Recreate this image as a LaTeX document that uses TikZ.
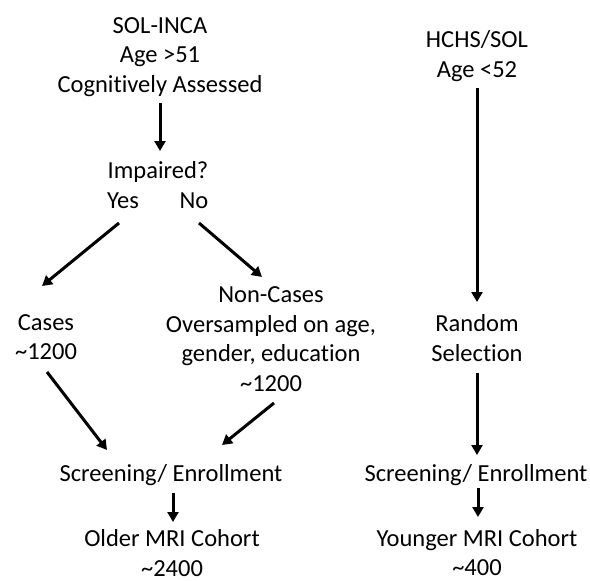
\documentclass[tikz,border=0pt]{standalone}
\usepackage{fontspec}
\setmainfont[Ligatures={NoCommon,NoRequired,NoContextual},RawFeature=-calt]{Carlito}
\usetikzlibrary{arrows.meta}
\begin{document}
\begin{tikzpicture}[x=1pt,y=-1pt,
  lbl/.style={align=center,inner sep=0pt,font=\fontsize{24.5}{29.5}\selectfont},
  arr/.style={line width=3pt,-{Triangle[length=10pt,width=11pt]}}]
\useasboundingbox (0,0) rectangle (590,581);
% left branch
\node[lbl] (solinca) at (160,57) {SOL-INCA\\Age >51\\Cognit\kern0pt ively Assessed};
\node[lbl] (impaired) at (158,172) {Impaired?};
\node[lbl] (yes) at (123,201) {Yes};
\node[lbl] (no) at (194,201) {No};
\node[lbl] (cases) at (46,337) {Cases\\\textasciitilde1200};
\node[lbl] (noncases) at (271,339) {Non-Cases\\Oversampled on age,\\gender, education\\\textasciitilde1200};
\node[lbl] (screenL) at (171,475) {Screening/ Enrollment};
\node[lbl] (older) at (172,553) {Older MRI Cohort\\\textasciitilde2400};
% right branch
\node[lbl] (hchs) at (477,56) {HCHS/SOL\\Age <52};
\node[lbl] (random) at (477,338) {Random\\Selec\kern0pt tion};
\node[lbl] (screenR) at (476,475) {Screening/ Enrollment};
\node[lbl] (younger) at (477,552.5) {Younger MRI Cohort\\\textasciitilde400};
% arrow end points
\coordinate (a1s) at (160,103); \coordinate (a1e) at (160,151);
\coordinate (a2s) at (119,223); \coordinate (a2e) at (42,286);
\coordinate (a3s) at (199,223); \coordinate (a3e) at (262,277);
\coordinate (a4s) at (47,372);  \coordinate (a4e) at (107,450);
\coordinate (a5s) at (274,403); \coordinate (a5e) at (222,445);
\coordinate (a6s) at (173,493); \coordinate (a6e) at (173,522);
\coordinate (b1s) at (477,88);  \coordinate (b1e) at (477,302);
\coordinate (b2s) at (477,373); \coordinate (b2e) at (477,455);
\coordinate (b3s) at (478,488); \coordinate (b3e) at (478,517);
\draw[arr] (a1s) -- (a1e);
\draw[arr] (a2s) -- (a2e);
\draw[arr] (a3s) -- (a3e);
\draw[arr] (a4s) -- (a4e);
\draw[arr] (a5s) -- (a5e);
\draw[arr] (a6s) -- (a6e);
\draw[arr] (b1s) -- (b1e);
\draw[arr] (b2s) -- (b2e);
\draw[arr] (b3s) -- (b3e);
\end{tikzpicture}
\end{document}
